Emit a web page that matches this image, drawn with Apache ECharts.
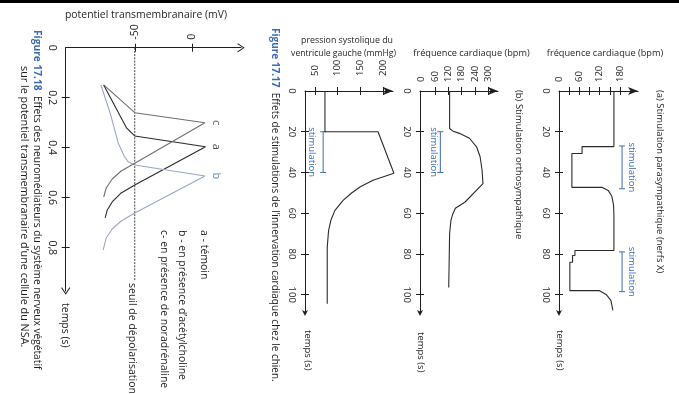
<!DOCTYPE html>
<html><head><meta charset="utf-8">
<script src="https://cdn.jsdelivr.net/npm/echarts@6/dist/echarts.min.js"></script>
<style>html,body{margin:0;padding:0;background:#fff}#c{width:679px;height:394px}</style>
</head><body><div id="c"></div>
<script>
// ================= DATA =================
// Figure 17.18 – potentiel transmembranaire (mV) vs temps (s)
const potTimeTicks = [0.2, 0.4, 0.6, 0.8];
const potTimeLabels = [0, 0.2, 0.4, 0.6, 0.8];
const potValueTicks = [-50, 0];
const seuil = -50;
const seuilSpan = [0, 0.93];
const curveA_t  = [0.149, 0.322, 0.353, 0.396, 0.549, 0.581, 0.617, 0.649, 0.681];
const curveA_mV = [-77, -57, -50, 11.5, -50, -61.8, -69.6, -73.9, -75.7];
const curveB_t  = [0.149, 0.201, 0.261, 0.381, 0.433, 0.456, 0.469, 0.513, 0.661, 0.693, 0.725, 0.761, 0.809];
const curveB_mV = [-79.4, -75.7, -71.4, -64.4, -59.2, -55.8, -50, 11, -50, -61.8, -69.6, -74.8, -77.4];
const curveC_t  = [0.149, 0.26, 0.30, 0.462, 0.493, 0.525, 0.561, 0.597];
const curveC_mV = [-77, -50, 11, -50, -61.8, -69.6, -74.8, -77];
const curveNames = ['a', 'b', 'c'];

// Figure 17.17 – stimulations de l'innervation cardiaque
const timeTicks = [20, 40, 60, 80, 100];
const timeLabels = [0, 20, 40, 60, 80, 100];
const pressTicks = [50, 100, 150, 200];
const freqTicksB = [60, 120, 180, 240, 300];
const freqLabelsB = [0, 60, 120, 180, 240, 300];
const freqTicksA = [30, 60, 90, 120, 150, 180];
const freqLabelsA = [0, 60, 120, 180];

const press_t    = [0, 20, 20, 40.4, 43.8, 47, 50.2, 53.7, 58.6, 63.5, 68.5, 76.8, 104.4];
const press_mmHg = [72, 72, 189, 224, 178, 150, 130, 112, 94, 85, 80, 77, 77];
const freqB_t    = [0, 18.4, 19.6, 20.8, 23.2, 27.4, 32.3, 38.9, 45.5, 54.5, 57.6, 60.5, 63.5, 70, 96.5];
const freqB_bpm  = [126, 126, 140, 170, 216, 248, 264, 273, 277, 196, 152, 140, 132, 126, 122];
const freqA_t    = [0, 27.3, 27.3, 30.7, 30.7, 47.3, 47.3, 48.8, 51.7, 56.2, 61, 78.3, 78.3, 80.8, 80.8, 84.1, 84.1, 98, 98, 99.9, 102.8, 107.7];
const freqA_bpm  = [162, 162, 68, 68, 38, 38, 127, 145, 156, 161, 162, 162, 47, 47, 40, 40, 32, 32, 118, 139, 153, 159];

const stimPress = [[20, 40]];
const stimB = [[20, 40]];
const stimA = [[27, 48], [79, 98.5]];

// ================= STYLE =================
const FONT = '"Open Sans", "Noto Sans", sans-serif';
const INK = '#1e1e1e';
const BLUE = '#3a6cb3';
const zip = (xs, ys) => xs.map((x, i) => [x, ys[i]]);
const comma = v => String(v).replace('.', ',');
const openArrow = 'path://M0,0 L6,9 L5,9.8 L0,2.2 L-5,9.8 L-6,9 Z';
const openArrowDown = 'path://M0,9.8 L6,0.8 L5,0 L0,7.6 L-5,0 L-6,0.8 Z';
const solidArrowDown = 'path://M0,10 L5,0 L0,2.6 L-5,0 Z';

const grids = [
  {left: 65.7, top: 47.7, width: 175.3, height: 243.3},   // 17.18
  {left: 305, top: 91, width: 88, height: 222},           // pression
  {left: 420, top: 91, width: 78, height: 222},           // (b)
  {left: 559, top: 91, width: 79, height: 222}            // (a)
];

const xAxes = [], yAxes = [];
function addAxes(g, o) {
  const baseLine = {onZero: false, lineStyle: {color: INK, width: 1}};
  const idx = xAxes.length;
  const h = grids[g].height;
  xAxes.push({
    gridIndex: g, type: 'value', position: 'top', min: o.xMin, max: o.xMax,
    axisLine: Object.assign({}, baseLine, {symbol: ['none', o.arrowX], symbolSize: o.arrowSize}),
    axisTick: {show: true, inside: false, length: 4, customValues: o.xTicks, lineStyle: {color: INK}},
    axisLabel: {show: true, customValues: o.xLabels, rotate: -90, margin: o.xMargin,
      fontSize: o.fs, fontFamily: FONT, color: INK, formatter: o.xFmt || (v => String(v))},
    splitLine: {show: false}
  });
  xAxes.push({
    gridIndex: g, type: 'value', position: 'top', min: o.xMin, max: o.xMax,
    axisLine: {show: false, onZero: false},
    axisTick: {show: true, inside: true, length: 4, customValues: o.xTicks, lineStyle: {color: INK}},
    axisLabel: {show: false}, splitLine: {show: false}
  });
  yAxes.push({
    gridIndex: g, type: 'value', position: 'left', inverse: true, min: 0, max: o.yMax,
    axisLine: Object.assign({}, baseLine, {symbol: ['none', o.arrowY], symbolSize: o.arrowSize, symbolOffset: [0, -h]}),
    axisTick: {show: true, inside: false, length: 4, customValues: o.yTicks, lineStyle: {color: INK}},
    axisLabel: {show: true, customValues: o.yLabels, rotate: -90, margin: o.yMargin,
      fontSize: o.fs, fontFamily: FONT, color: INK, formatter: o.yFmt || (v => String(v))},
    splitLine: {show: false}
  });
  yAxes.push({
    gridIndex: g, type: 'value', position: 'left', inverse: true, min: 0, max: o.yMax,
    axisLine: {show: false, onZero: false},
    axisTick: {show: true, inside: true, length: 4, customValues: o.yTicks, lineStyle: {color: INK}},
    axisLabel: {show: false}, splitLine: {show: false}
  });
  return idx;
}

const iP = addAxes(0, {xMin: -110, xMax: 42.3, xTicks: potValueTicks, xLabels: potValueTicks, xMargin: 8,
  yMax: 0.973, yTicks: potTimeTicks, yLabels: potTimeLabels, yMargin: 8, yFmt: comma,
  fs: 10.5, arrowX: openArrow, arrowY: openArrowDown, arrowSize: [9, 8]});
const iS = addAxes(1, {xMin: 28, xMax: 222, xTicks: pressTicks, xLabels: pressTicks, xMargin: 15,
  yMax: 109, yTicks: timeTicks, yLabels: timeLabels, yMargin: 8,
  fs: 9.5, arrowX: 'arrow', arrowY: solidArrowDown, arrowSize: [6, 10]});
const iB = addAxes(2, {xMin: -8, xMax: 345, xTicks: freqTicksB, xLabels: freqLabelsB, xMargin: 9,
  yMax: 109, yTicks: timeTicks, yLabels: timeLabels, yMargin: 8,
  fs: 9.5, arrowX: 'arrow', arrowY: solidArrowDown, arrowSize: [6, 10]});
const iA = addAxes(3, {xMin: 0, xMax: 233, xTicks: freqTicksA, xLabels: freqLabelsA, xMargin: 9,
  yMax: 109, yTicks: timeTicks, yLabels: timeLabels, yMargin: 8,
  fs: 9.5, arrowX: 'arrow', arrowY: solidArrowDown, arrowSize: [6, 10]});

function curve(ax, vals, times, color) {
  return {type: 'line', xAxisIndex: ax, yAxisIndex: ax, data: zip(vals, times),
    showSymbol: false, symbol: 'none', silent: true, animation: false,
    lineStyle: {color: color, width: 1.1}};
}

function stimSeries(ax, periods, stimX, labelDx) {
  return {type: 'custom', xAxisIndex: ax, yAxisIndex: ax, data: periods, silent: true, animation: false,
    renderItem: function (params, api) {
      const p0 = api.coord([stimX, api.value(0)]);
      const p1 = api.coord([stimX, api.value(1)]);
      const st = {stroke: BLUE, lineWidth: 1};
      return {type: 'group', children: [
        {type: 'line', shape: {x1: p0[0], y1: p0[1], x2: p1[0], y2: p1[1]}, style: st},
        {type: 'line', shape: {x1: p0[0] - 3, y1: p0[1], x2: p0[0] + 3, y2: p0[1]}, style: st},
        {type: 'line', shape: {x1: p1[0] - 3, y1: p1[1], x2: p1[0] + 3, y2: p1[1]}, style: st},
        {type: 'text', x: p0[0] + labelDx, y: (p0[1] + p1[1]) / 2, rotation: -Math.PI / 2,
          style: {text: 'stimulation', fill: BLUE, font: '9.5px ' + FONT, align: 'center', verticalAlign: 'middle'}}
      ]};
    }};
}

const potCurves = [[curveA_mV, curveA_t, '#2a2a2a', INK], [curveB_mV, curveB_t, '#9aa6c6', BLUE], [curveC_mV, curveC_t, '#6f6f6f', '#333']];
const peakLabels = potCurves.map((c, i) => {
  const k = c[0].indexOf(Math.max.apply(null, c[0]));
  return {value: [c[0][k], c[1][k], curveNames[i]], label: {color: c[3]}};
});

const series = [
  {type: 'line', xAxisIndex: iP, yAxisIndex: iP, data: [[seuil, seuilSpan[0]], [seuil, seuilSpan[1]]],
    symbol: 'none', silent: true, animation: false, lineStyle: {color: '#444', width: 1, type: [2, 1.2]}},
  curve(iP, curveA_mV, curveA_t, potCurves[0][2]),
  curve(iP, curveB_mV, curveB_t, potCurves[1][2]),
  curve(iP, curveC_mV, curveC_t, potCurves[2][2]),
  {type: 'scatter', xAxisIndex: iP, yAxisIndex: iP, data: peakLabels, symbolSize: 0, silent: true, animation: false,
    label: {show: true, position: 'right', distance: 11, rotate: -90, align: 'center', verticalAlign: 'middle',
      fontSize: 11, fontFamily: FONT, formatter: p => p.value[2]}},
  curve(iS, press_mmHg, press_t, '#2a2a2a'),
  curve(iB, freqB_bpm, freqB_t, '#2a2a2a'),
  curve(iA, freqA_bpm, freqA_t, '#2a2a2a'),
  stimSeries(iS, stimPress, 68, -11),
  stimSeries(iB, stimB, 84, -7),
  stimSeries(iA, stimA, 186, 10)
];

function rtext(x, y, text, size, color, extra) {
  return {type: 'text', x: x, y: y, rotation: -Math.PI / 2, silent: true,
    style: Object.assign({text: text, font: size + 'px ' + FONT, fill: color || INK, align: 'left', verticalAlign: 'middle'}, extra || {})};
}
function htext(x, y, text, size, align) {
  return {type: 'text', x: x, y: y, silent: true,
    style: {text: text, font: size + 'px ' + FONT, fill: INK, align: align || 'center', verticalAlign: 'middle'}};
}
const figRich1 = {f: {fill: BLUE, fontWeight: 'bold', fontSize: 10.2, fontFamily: FONT}};
const figRich10 = {f: {fill: BLUE, fontWeight: 'bold', fontSize: 10, fontFamily: FONT}};

const graphic = [
  {type: 'rect', shape: {x: 0, y: 0, width: 679, height: 3}, style: {fill: '#000'}, silent: true},
  // 17.18
  htext(146, 15, 'potentiel transmembranaire (mV)', 10.4),
  rtext(37, 30, '{f|Figure 17.18}  Effets des neuromédiateurs du système nerveux végétatif', 10.2, INK, {rich: figRich1}),
  rtext(24, 66, 'sur le potentiel transmembranaire d\u2019une cellule du NSA.', 10.8),
  rtext(204, 230, 'a - témoin', 10.5),
  rtext(182, 230, 'b - en présence d\u2019acétylcholine', 10.5),
  rtext(164, 230, 'c- en présence de noradrénaline', 10.5),
  rtext(132, 283, 'seuil de dépolarisation', 10.5),
  rtext(65, 303, 'temps (s)', 10.5),
  // 17.17
  rtext(275, 28, '{f|Figure 17.17}  Effets de stimulations de l\u2019innervation cardiaque chez le chien.', 10, INK, {rich: figRich10}),
  htext(393, 40, 'pression systolique du', 8.8, 'right'),
  htext(396, 54, 'ventricule gauche (mmHg)', 8.6, 'right'),
  htext(471.5, 53, 'fréquence cardiaque (bpm)', 9.2),
  htext(605, 53, 'fréquence cardiaque (bpm)', 9.2),
  rtext(519, 90, '(b) Stimulation orthosympathique', 9.5),
  rtext(660, 90, '(a) Stimulation parasympathique (nerfs X)', 9.5),
  rtext(308, 330, 'temps (s)', 9.5),
  rtext(421, 332, 'temps (s)', 9.5),
  rtext(560, 330, 'temps (s)', 9.5)
];

const chart = echarts.init(document.getElementById('c'), null, {renderer: 'canvas'});
chart.setOption({
  animation: false,
  backgroundColor: '#fff',
  grid: grids,
  xAxis: xAxes,
  yAxis: yAxes,
  series: series,
  graphic: graphic
});
</script></body></html>
